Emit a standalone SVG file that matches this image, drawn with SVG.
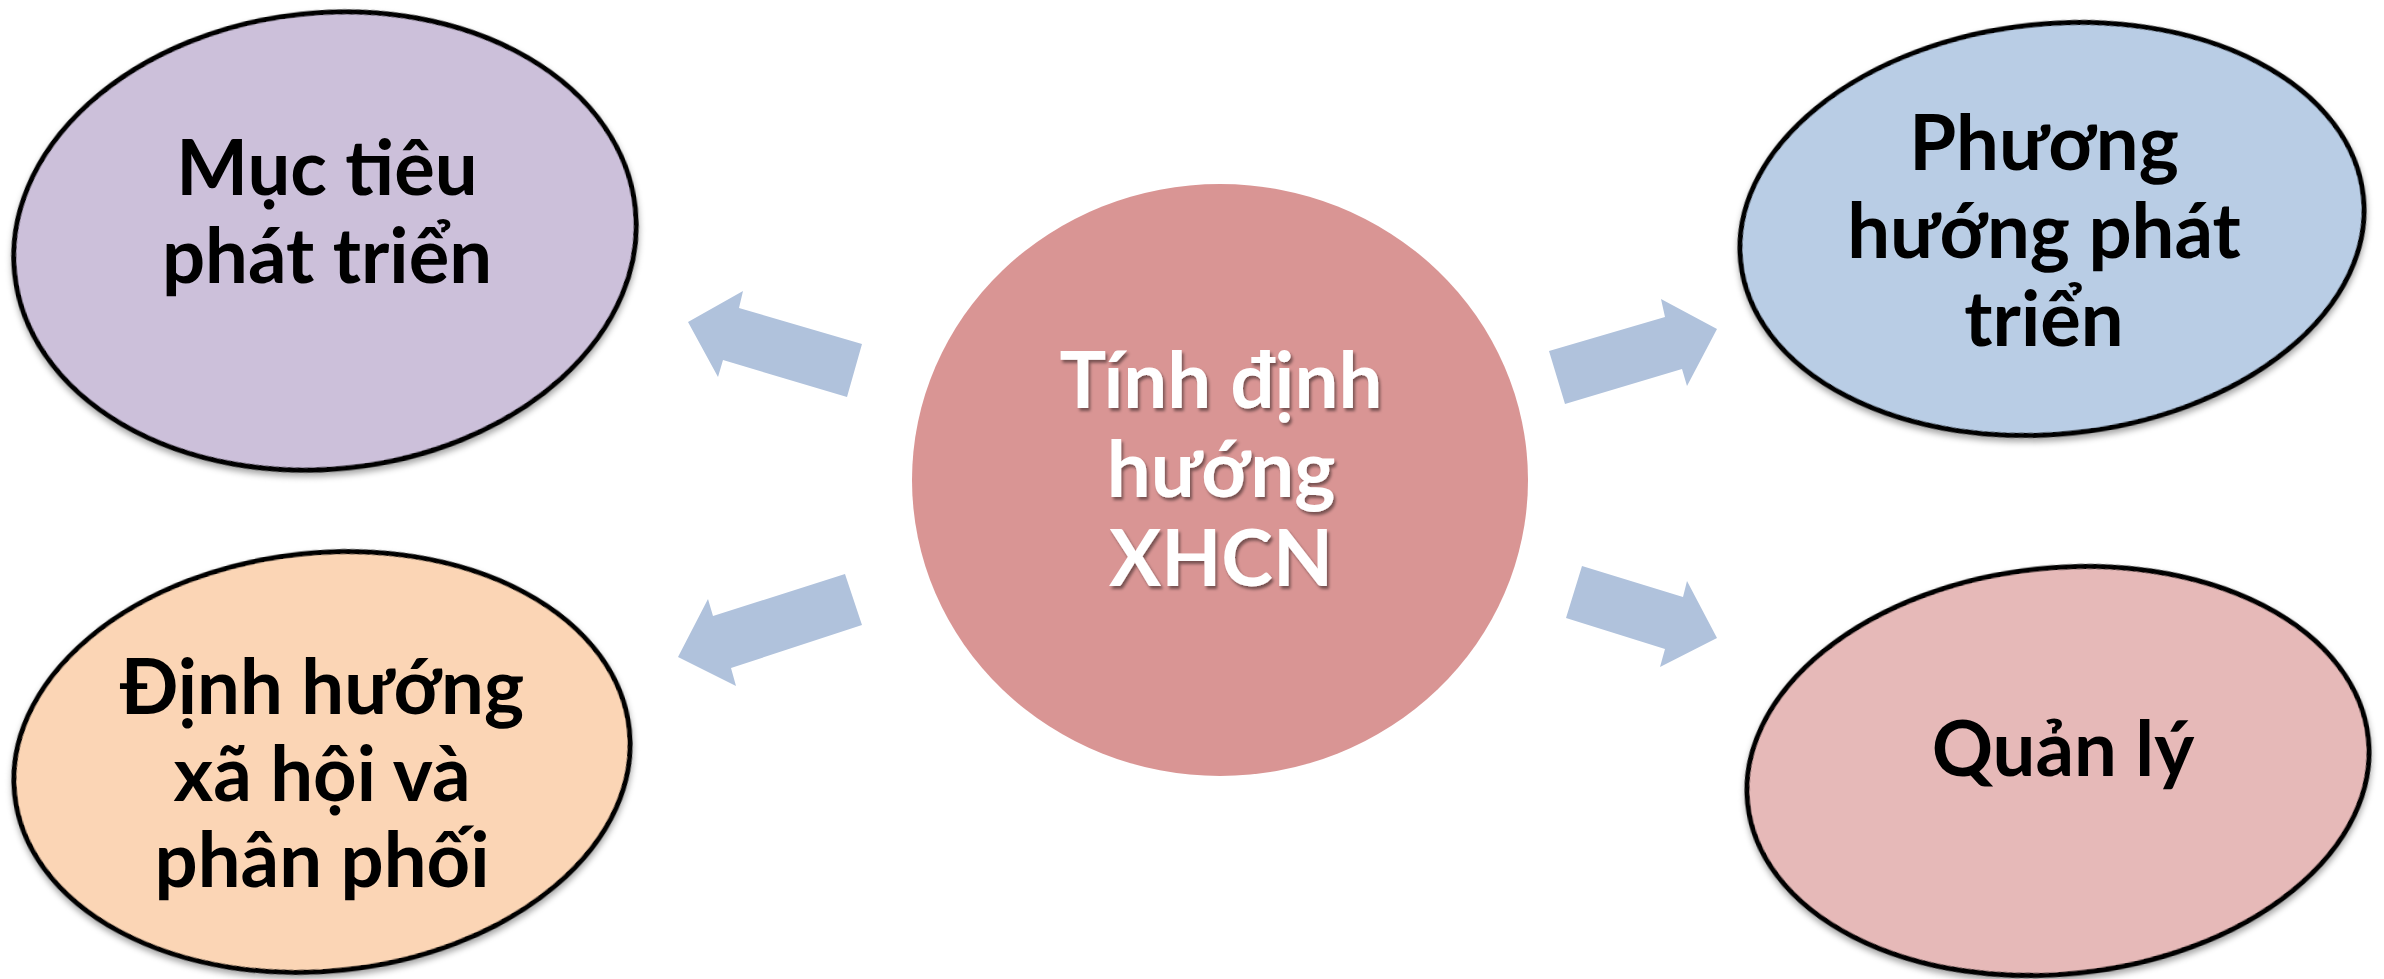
<svg xmlns="http://www.w3.org/2000/svg" width="2384" height="979" viewBox="0 0 2384 979">
<defs>
<filter id="shadow" x="-10%" y="-10%" width="120%" height="125%">
<feDropShadow dx="0" dy="4" stdDeviation="3" flood-color="#000" flood-opacity="0.35"/>
</filter>
<filter id="tshadow" x="-10%" y="-20%" width="120%" height="140%">
<feDropShadow dx="2" dy="3" stdDeviation="1.5" flood-color="#000" flood-opacity="0.45"/>
</filter>
</defs>
<style>
.node{stroke:#000;stroke-width:5}
.lbl{font-family:Lato,"Open Sans","Liberation Sans",sans-serif;font-weight:bold;font-size:76px;fill:#000;text-anchor:middle}
.clbl{font-family:Lato,"Open Sans","Liberation Sans",sans-serif;font-weight:bold;font-size:78px;fill:#fff;text-anchor:middle}
.arrow{fill:#B0C2DC}
</style>
<rect width="2384" height="979" fill="#fff"/>
<g id="connectors">
<polygon class="arrow" points="688,322 743,291 739,308 862,344 847,397 723,360 718,377"/>
<polygon class="arrow" points="678,657 708,599 713,616 845,574 862,625 731,668 736,686"/>
<polygon class="arrow" points="1549,351 1665,317 1661,299 1717,329 1687,386 1682,369 1565,404"/>
<polygon class="arrow" points="1582,566 1683,597 1687,581 1717,638 1660,667 1665,649 1566,618"/>
</g>
<g id="center">
<ellipse cx="1220" cy="480" rx="308" ry="296" fill="#D99594"/>
<g filter="url(#tshadow)">
<text class="clbl" x="1221" y="408">Tính định</text>
<text class="clbl" x="1221" y="497">hướng</text>
<text class="clbl" x="1221" y="586">XHCN</text>
</g>
</g>
<g id="muc-tieu">
<ellipse class="node" cx="325" cy="241" rx="312" ry="228" fill="#CCC0DA" transform="rotate(-6 325 241)" filter="url(#shadow)"/>
<text class="lbl" x="327" y="195">Mục tiêu</text>
<text class="lbl" x="327" y="283">phát triển</text>
</g>
<g id="dinh-huong">
<ellipse class="node" cx="322" cy="762" rx="309" ry="209" fill="#FBD5B5" transform="rotate(-6 322 762)" filter="url(#shadow)"/>
<text class="lbl" x="322" y="714">Định hướng</text>
<text class="lbl" x="322" y="801">xã hội và</text>
<text class="lbl" x="322" y="887">phân phối</text>
</g>
<g id="phuong-huong">
<ellipse class="node" cx="2052" cy="229" rx="313" ry="205" fill="#B9CDE5" transform="rotate(-6 2052 229)" filter="url(#shadow)"/>
<text class="lbl" x="2044" y="170">Phương</text>
<text class="lbl" x="2044" y="258">hướng phát</text>
<text class="lbl" x="2044" y="346">triển</text>
</g>
<g id="quan-ly">
<ellipse class="node" cx="2058" cy="771" rx="312" ry="203" fill="#E6B9B8" transform="rotate(-6 2058 771)" filter="url(#shadow)"/>
<text class="lbl" x="2063" y="776">Quản lý</text>
</g>
</svg>
